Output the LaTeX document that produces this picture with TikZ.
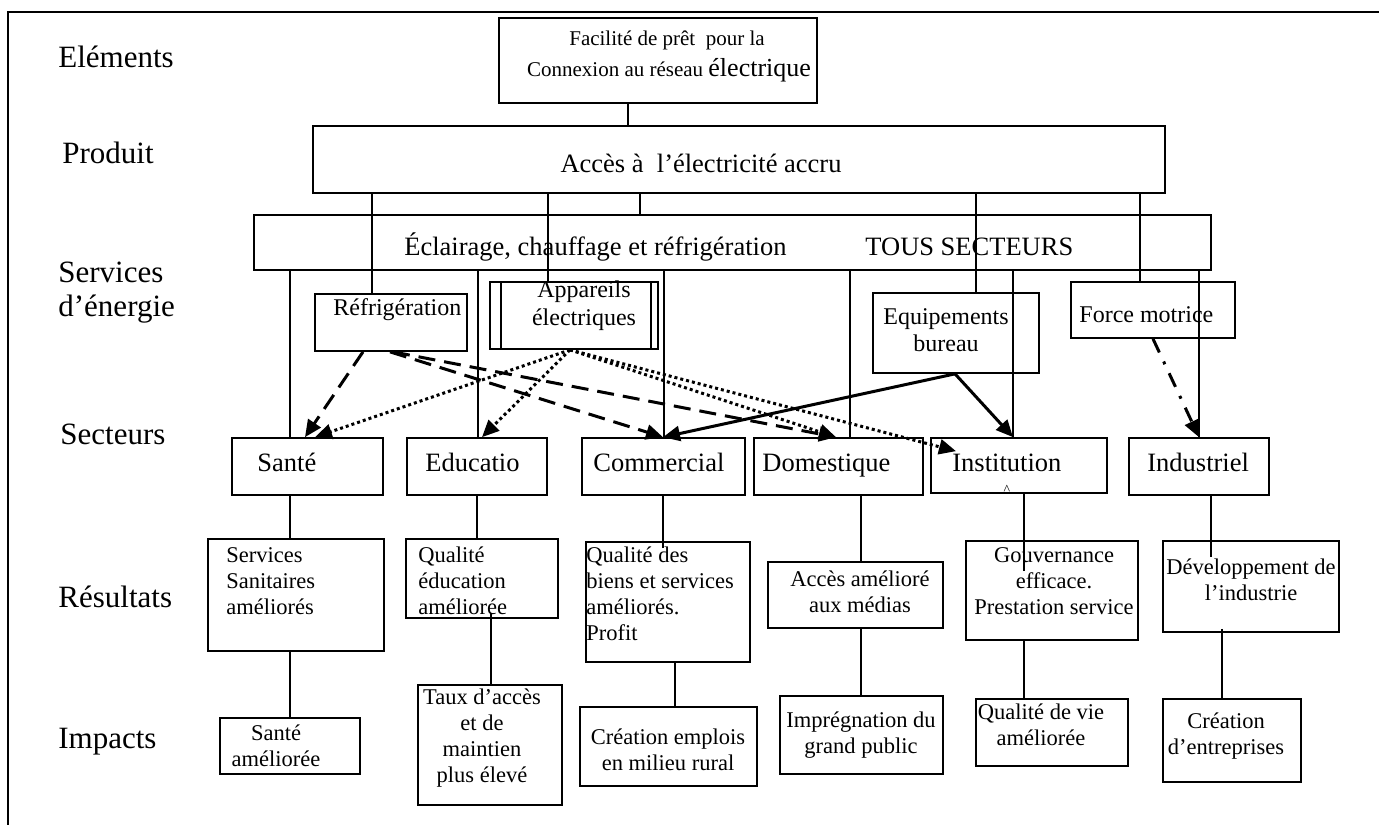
\documentclass[tikz,border=0pt]{standalone}
\usepackage{fontspec}
\setmainfont{Liberation Serif}
\usetikzlibrary{arrows.meta,fit,calc}

\begin{document}
\begin{tikzpicture}[x=0.5pt,y=-0.5pt,
  frame/.style={line width=1pt},
  box/.style={draw, line width=0.85pt, inner sep=0pt},
  link/.style={line width=0.7pt},
  lab/.style={inner sep=0pt, anchor=west, align=left, font=\fontsize{15.5}{17}\selectfont},
  bigtxt/.style={inner sep=0pt, font=\fontsize{13.25}{15}\selectfont},
  sectxt/.style={bigtxt, anchor=base west},
  midtxt/.style={inner sep=0pt, align=center, font=\fontsize{12}{13.8}\selectfont},
  smalltxt/.style={inner sep=0pt, font=\fontsize{11.25}{13}\selectfont},
  flow/.style={line width=1.5pt, -{Triangle[length=8.5pt,width=7.5pt]}},
  dashflow/.style={flow, dash pattern=on 8.5pt off 4.5pt},
  dotflow/.style={flow, dash pattern=on 1.5pt off 1.5pt},
  dashdotflow/.style={flow, dash pattern=on 7.5pt off 5pt on 1.5pt off 5pt},
]
\useasboundingbox (0,0) rectangle (1379,825);

% outer frame (top and left sides only)
\draw[frame] (1379,12) -- (8,12) -- (8,825);

% row labels
\node[lab] (lElem) at (58,57) {Eléments};
\node[lab] (lProd) at (62,153) {Produit};
\node[lab] (lServ) at (58,293) {Services\\d’énergie};
\node[lab] (lSect) at (60,434) {Secteurs};
\node[lab] (lRes) at (58,597) {Résultats};
\node[lab] (lImp) at (58,742) {Impacts};

% boxes
\node[box, fit={(499,18) (817,103)}] (elem) {};
\node[box, fit={(313,126) (1165,193)}] (prod) {};
\node[box, fit={(254,215) (1211,270)}] (serv) {};
\node[box, fit={(315,294) (467,351)}] (refr) {};
\node[box, fit={(490,282) (658,349)}] (appO) {};
\node[box, fit={(501,282) (651,349)}] (appI) {};
\node[box, fit={(873,293) (1039,373)}] (equip) {};
\node[box, fit={(1071,282) (1235,338)}] (force) {};

\node[box, fit={(232,438) (383,495)}] (sante) {};
\node[box, fit={(407,438) (547,495)}] (educ) {};
\node[box, fit={(582,438) (745,495)}] (comm) {};
\node[box, fit={(754,438) (923,495)}] (dom) {};
\node[box, fit={(931,438) (1107,493)}] (inst) {};
\node[box, fit={(1129,438) (1269,495)}] (indu) {};

\node[box, fit={(208,539) (384,651)}] (r1) {};
\node[box, fit={(406,539) (558,618)}] (r2) {};
\node[box, fit={(586,542) (750,662)}] (r3) {};
\node[box, fit={(768,562) (943,628)}] (r4) {};
\node[box, fit={(966,541) (1138,640)}] (r5) {};
\node[box, fit={(1163,541) (1339,632)}] (r6) {};

\node[box, fit={(220,718) (360,774)}] (i1) {};
\node[box, fit={(418,685) (562,805)}] (i2) {};
\node[box, fit={(580,707) (757,786)}] (i3) {};
\node[box, fit={(780,696) (943,774)}] (i4) {};
\node[box, fit={(976,699) (1128,766)}] (i5) {};
\node[box, fit={(1163,699) (1301,782)}] (i6) {};

% box texts
\node[inner sep=0pt, font=\fontsize{10.5}{12}\selectfont] (elemA) at (667,40) {Facilité de prêt\ \ pour la};
\node[inner sep=0pt, font=\fontsize{10.5}{12}\selectfont] (elemB) at (669,70) {Connexion au réseau {\fontsize{13}{15}\selectfont électrique}};
\node[bigtxt] (prodT) at (701,163) {Accès à\ \ l’électricité accru};
\node[bigtxt, anchor=west] (servA) at (404,247) {Éclairage, chauffage et réfrigération};
\node[bigtxt, anchor=west] (servB) at (865,247) {TOUS SECTEURS};

\node[midtxt, anchor=west] (refrT) at (333,310) {Réfrigération};
\node[midtxt, font=\fontsize{12}{14}\selectfont] (appT) at (584,306) {Appareils\\électriques};
\node[midtxt, font=\fontsize{12}{13.5}\selectfont] (equipT) at (946,330) {Equipements\\bureau};
\node[midtxt, anchor=west] (forceT) at (1079,315) {Force motrice};

\node[sectxt] (santeT) at (257,471) {Santé};
\node[sectxt] (educT) at (425,471) {Educatio};
\node[sectxt] (commT) at (593,471) {Commercial};
\node[sectxt] (domT) at (762,471) {Domestique};
\node[sectxt] (instT) at (952,471) {Institution};
\node[sectxt] (induT) at (1147,471) {Industriel};
\node[inner sep=0pt, font=\fontsize{7}{8}\selectfont] (instMark) at (1007,490) {\textasciicircum};

\node[smalltxt, anchor=west, align=left] (r1T) at (226,581) {Services\\Sanitaires\\améliorés};
\node[smalltxt, anchor=west, align=left] (r2T) at (418,581) {Qualité\\éducation\\améliorée};
\node[smalltxt, anchor=west, align=left] (r3T) at (586,594) {Qualité des\\biens et services\\améliorés.\\Profit};
\node[smalltxt, align=center] (r4T) at (860,592) {Accès amélioré\\aux médias};
\node[smalltxt, align=center] (r5T) at (1054,581) {Gouvernance\\efficace.\\Prestation service};
\node[smalltxt, align=center] (r6T) at (1251,580) {Développement de\\l’industrie};

\node[smalltxt, align=center] (i1T) at (276,746) {Santé\\améliorée};
\node[smalltxt, align=center] (i2T) at (482,738) {Taux d’accès\\et de\\maintien\\plus élevé};
\node[smalltxt, align=center] (i3T) at (668,750) {Création emplois\\en milieu rural};
\node[smalltxt, align=center] (i4T) at (861,735) {Imprégnation du\\grand public};
\node[smalltxt, align=center] (i5T) at (1041,725) {Qualité de vie\\améliorée};
\node[smalltxt, align=center] (i6T) at (1226,736) {Création\\d’entreprises};

% plain connectors
\draw[link] (elem.south -| 628,0) -- (prod.north -| 628,0);
\draw[link] (prod.south -| 640,0) -- (serv.north -| 640,0);
\draw[link] (prod.south -| 372,0) -- (refr.north -| 372,0);
\draw[link] (prod.south -| 548,0) -- (appO.north -| 548,0);
\draw[link] (prod.south -| 976,0) -- (equip.north -| 976,0);
\draw[link] (prod.south -| 1140,0) -- (force.north -| 1140,0);
\draw[link] (serv.south -| 290,0) -- (sante.north -| 290,0);
\draw[link] (serv.south -| 478,0) -- (educ.north -| 478,0);
\draw[link] (serv.south -| 664,0) -- (comm.north -| 664,0);
\draw[link] (serv.south -| 850,0) -- (dom.north -| 850,0);
\draw[link] (serv.south -| 1013,0) -- (inst.north -| 1013,0);
\draw[link] (serv.south -| 1199,0) -- (indu.north -| 1199,0);

\draw[link] (sante.south -| 290,0) -- (r1.north -| 290,0);
\draw[link] (r1.south -| 290,0) -- (i1.north -| 290,0);
\draw[link] (educ.south -| 477,0) -- (r2.north -| 477,0);
\draw[link] (r2.south -| 491,0) ++(0,-6) -- (i2.north -| 491,0);
\draw[link] (r3.north -| 663,0) ++(0,7) -- (comm.south -| 663,0);
\draw[link] (r3.south -| 675,0) -- (i3.north -| 675,0);
\draw[link] (dom.south -| 861,0) -- (r4.north -| 861,0);
\draw[link] (r4.south -| 861,0) -- (i4.north -| 861,0);
\draw[link] (r5.north -| 1024,0) ++(0,31) -- (inst.south -| 1024,0);
\draw[link] (r5.south -| 1024,0) -- (i5.north -| 1024,0);
\draw[link] (r6.north -| 1211,0) ++(0,17) -- (indu.south -| 1211,0);
\draw[link] (r6.south -| 1222,0) ++(0,-4) -- (i6.north -| 1222,0);

% energy services feeding the sectors
\draw[dashflow] (refr.south -| 363,0) -- (sante.north -| 305,0);
\draw[dashflow] (refr.south -| 390,0) -- (comm.north -| 663,0);
\draw[dashflow] (refr.south -| 393,0) -- (dom.north -| 836,0);
\draw[dotflow] (appO.south -| 570,0) -- (sante.north -| 315,0);
\draw[dotflow] (appO.south -| 570,0) -- (educ.north -| 482,0);
\draw[dotflow] (appO.south -| 570,0) -- (dom.north -| 836,0);
\draw[dotflow] (appO.south -| 570,0) -- ($(inst.north -| 956,0)+(0,14)$);
\draw[flow] (equip.south -| 955,0) -- (comm.north -| 663,0);
\draw[flow] (equip.south -| 955,0) -- (inst.north -| 1013,0);
\draw[dashdotflow] (force.south -| 1153,0) -- (indu.north -| 1199,0);

\end{tikzpicture}
\end{document}
